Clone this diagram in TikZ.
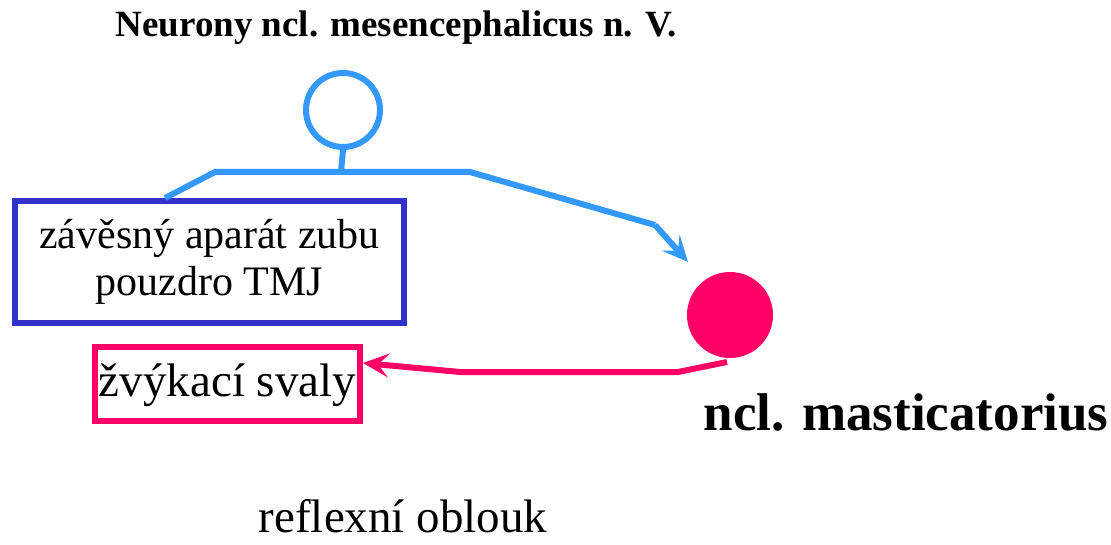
\documentclass[tikz,border=0pt]{standalone}
\usepackage{fontspec}
\setmainfont{Liberation Serif}
\usetikzlibrary{arrows.meta}
\definecolor{nblue}{HTML}{3399FF}
\definecolor{bbox}{HTML}{3333CC}
\definecolor{npink}{HTML}{FF0066}
\begin{document}
\begin{tikzpicture}[x=1pt,y=-1pt,
  blueline/.style={draw=nblue,line width=6pt},
  pinkline/.style={draw=npink,line width=6pt},
  tip/.style={-{Stealth[length=26pt,width=24pt,inset=11pt]}}]
\useasboundingbox (0,0) rectangle (1111,545);
\node[font=\bfseries\fontsize{37}{40}\selectfont] (title) at (396,28) {Neurony ncl. mesencephalicus n. V.};
\node[circle,draw=nblue,line width=6pt,minimum size=74pt,inner sep=0pt] (neu) at (343,110) {};
\node[draw=bbox,line width=6pt,minimum width=389pt,minimum height=122pt,inner sep=0pt,align=center,font=\fontsize{42}{47}\selectfont] (zav) at (209.5,262) {závěsný aparát zubu\\pouzdro TMJ};
\node[draw=npink,line width=6pt,minimum width=265pt,minimum height=74pt,inner sep=0pt,font=\fontsize{47}{50}\selectfont] (zvy) at (227.5,384) {\raisebox{-13pt}[0pt][0pt]{žvýkací svaly}};
\node[circle,fill=npink,minimum size=86pt,inner sep=0pt] (mast) at (730,315) {};
\node[font=\bfseries\fontsize{53}{56}\selectfont] (mastl) at (906,412) {ncl. masticatorius};
\node[font=\fontsize{47}{50}\selectfont,anchor=base,inner sep=0pt,text depth=0pt] (refl) at (403,532) {reflexní oblouk};
\coordinate (j) at (341,172);
\coordinate (jl) at (215,172);
\coordinate (jr) at (470,172);
\coordinate (br) at (655,225);
\coordinate (tb) at (688,262);
\draw[blueline] (neu.south) -- (j);
\path (zav.north west) ++(153,0) coordinate (zs);
\draw[blueline,line join=miter] (zs) -- (jl) -- (jr) -- (br);
\draw[blueline,tip] (br) -- (tb);
\coordinate (ps) at (727,362);
\coordinate (p1) at (678,372);
\coordinate (p2) at (460,372);
\draw[pinkline,tip,line join=miter] (ps) -- (p1) -- (p2) -- (zvy.east |- 0,363);
\end{tikzpicture}
\end{document}
